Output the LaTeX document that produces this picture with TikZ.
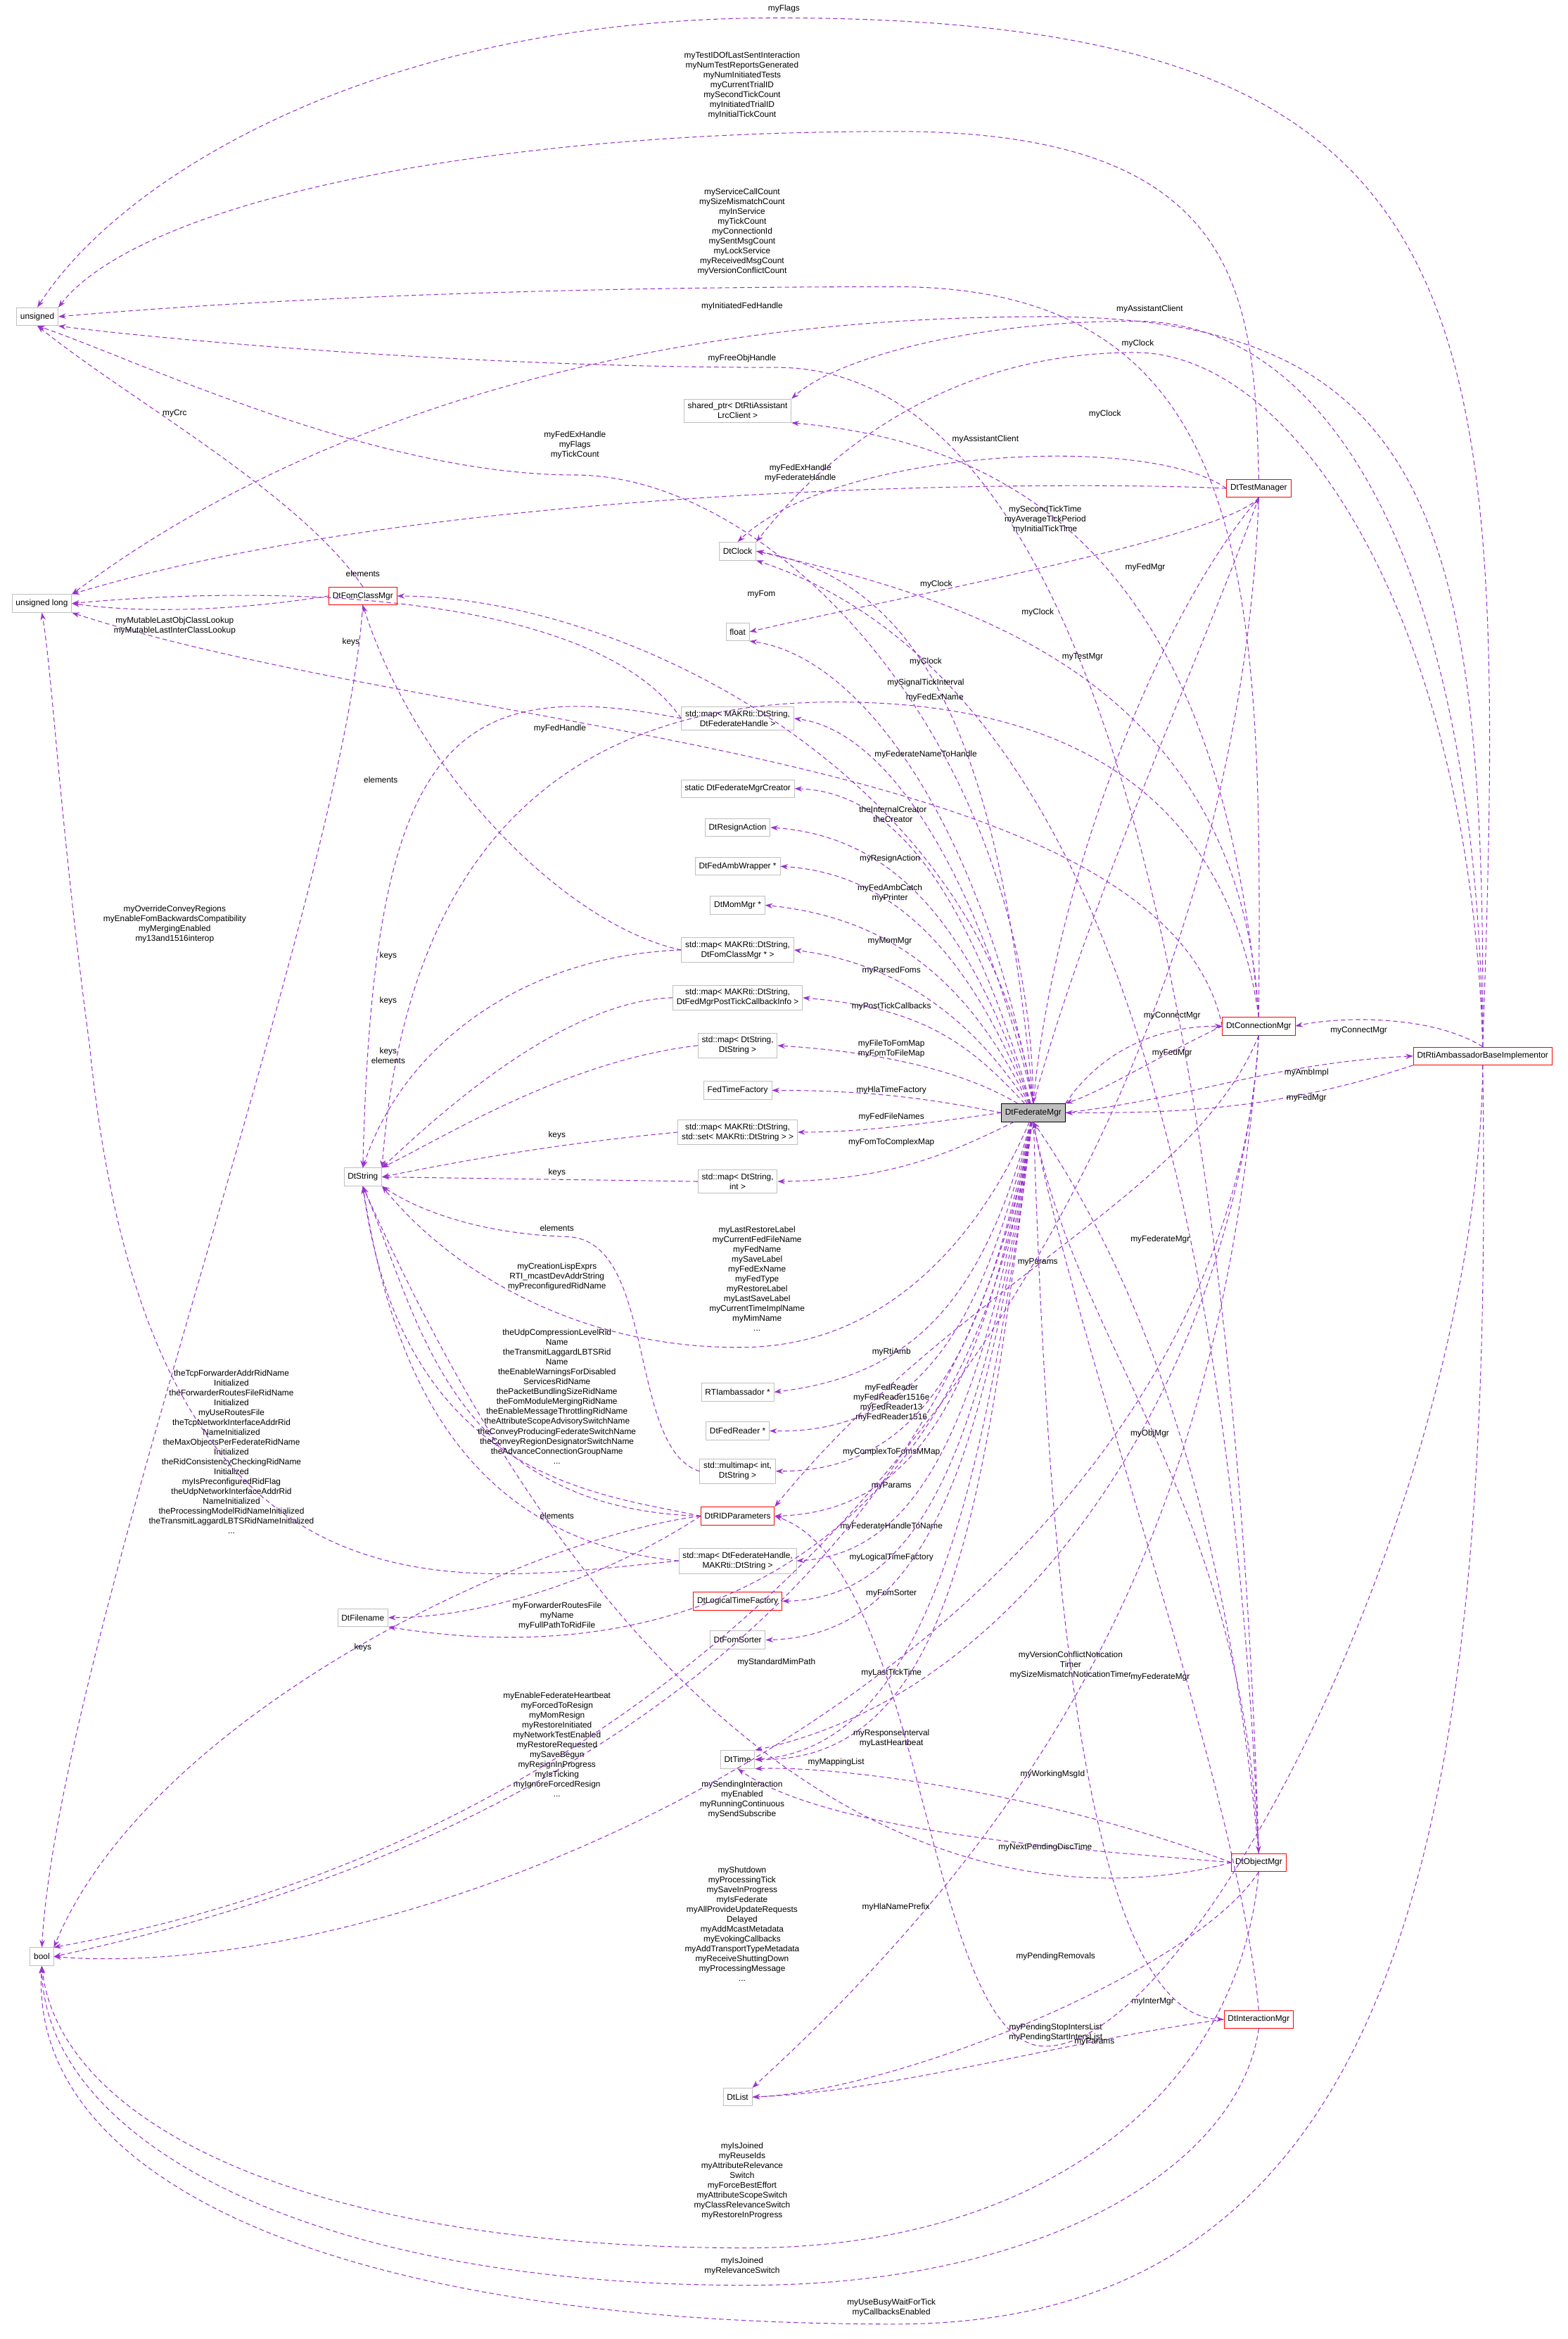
\documentclass[tikz,border=0pt]{standalone}
\usepackage{fontspec}
\setmainfont{Liberation Sans}
\usetikzlibrary{arrows.meta}
\definecolor{edge}{HTML}{9A32CD}
\begin{document}
\begin{tikzpicture}[x=1pt,y=-1pt,
 box/.style={draw={rgb,255:red,191;green,191;blue,191},fill=white,font=\fontsize{5.6}{6.6}\selectfont,align=center,inner sep=2.5pt,minimum height=12pt},
 rbox/.style={box,draw=red},
 e/.style={draw=edge,dashed,dash pattern=on 3pt off 2pt,line width=0.5pt,-{Stealth[length=5pt,width=3.5pt]}},
 lab/.style={font=\fontsize{5.6}{6.6}\selectfont,align=center,inner sep=0pt}]
\useasboundingbox (0,0) rectangle (1050,1566);
% nodes
\node[box] (U) at (25,212) {unsigned};
\node[box] (UL) at (28,404) {unsigned long};
\node[box] (B) at (28,1310) {bool};
\node[rbox] (FC) at (243,399) {DtFomClassMgr};
\node[box] (DS) at (243,788) {DtString};
\node[box] (FN) at (243,1083) {DtFilename};
\node[box] (SP) at (494,275) {shared\_ptr< DtRtiAssistant\\LrcClient >};
\node[box] (CK) at (494,369) {DtClock};
\node[box] (FL) at (494,423) {float};
\node[box] (MFH) at (494,481) {std::map< MAKRti::DtString,\\DtFederateHandle >};
\node[box] (SC) at (494,528) {static DtFederateMgrCreator};
\node[box] (RS) at (494,554) {DtResignAction};
\node[box] (AW) at (494,580) {DtFedAmbWrapper *};
\node[box] (MM) at (494,606) {DtMomMgr *};
\node[box] (MFC) at (494,636) {std::map< MAKRti::DtString,\\DtFomClassMgr * >};
\node[box] (MPT) at (494,668) {std::map< MAKRti::DtString,\\DtFedMgrPostTickCallbackInfo >};
\node[box] (MSS) at (494,700) {std::map< DtString,\\DtString >};
\node[box] (TF) at (494,730) {FedTimeFactory};
\node[box] (MSET) at (494,758) {std::map< MAKRti::DtString,\\std::set< MAKRti::DtString > >};
\node[box] (MSI) at (494,791) {std::map< DtString,\\int >};
\node[box] (RA) at (494,932) {RTIambassador *};
\node[box] (FR) at (494,958) {DtFedReader *};
\node[box] (MMI) at (494,985) {std::multimap< int,\\DtString >};
\node[rbox] (RID) at (494,1015) {DtRIDParameters};
\node[box] (MHS) at (494,1045) {std::map< DtFederateHandle,\\MAKRti::DtString >};
\node[rbox] (LTF) at (494,1072) {DtLogicalTimeFactory};
\node[box] (FS) at (494,1098) {DtFomSorter};
\node[box] (TI) at (494,1178) {DtTime};
\node[box] (LI) at (494,1404) {DtList};
\node[box,fill={rgb,255:red,191;green,191;blue,191},draw=black] (FM) at (692,745) {DtFederateMgr};
\node[rbox] (TM) at (843,327) {DtTestManager};
\node[rbox] (CM) at (843,687) {DtConnectionMgr};
\node[rbox] (RB) at (993,707) {DtRtiAmbassadorBaseImplementor};
\node[rbox] (OM) at (843,1247) {DtObjectMgr};
\node[rbox] (IM) at (843,1352) {DtInteractionMgr};
% top long edges
\draw[e] (RB.north) .. controls (1010,200) and (1005,12) .. (520,12) .. controls (250,12) and (80,120) .. (U.north);
\node[lab] at (525,6) {myFlags};
\draw[e] (TM.north) .. controls (840,200) and (835,88) .. (600,88) .. controls (300,88) and (90,140) .. (U.north east);
\node[lab] at (497,57) {myTestIDOfLastSentInteraction\\myNumTestReportsGenerated\\myNumInitiatedTests\\myCurrentTrialID\\mySecondTickCount\\myInitiatedTrialID\\myInitialTickCount};
\draw[e] (CM.north) .. controls (845,400) and (845,192) .. (600,192) .. controls (300,192) and (120,205) .. (U.east);
\node[lab] at (497,155) {myServiceCallCount\\mySizeMismatchCount\\myInService\\myTickCount\\myConnectionId\\mySentMsgCount\\myLockService\\myReceivedMsgCount\\myVersionConflictCount};
\draw[e] (RB.north) .. controls (995,350) and (960,212) .. (700,212) .. controls (300,212) and (100,360) .. (UL.north east);
\node[lab] at (497,205) {myInitiatedFedHandle};
\draw[e] (RB.north) .. controls (990,400) and (900,215) .. (760,215) .. controls (650,215) and (560,240) .. (SP.north east);
\node[lab] at (770,207) {myAssistantClient};
\draw[e] (RB.north) .. controls (985,420) and (870,236) .. (760,236) .. controls (620,236) and (540,320) .. (CK.north east);
\node[lab] at (762,230) {myClock};
\draw[e] (OM.north) .. controls (830,800) and (760,246) .. (520,246) .. controls (300,246) and (90,225) .. (U.south east);
\node[lab] at (497,240) {myFreeObjHandle};
\draw[e] (FC.north) .. controls (200,330) and (90,270) .. (U.south);
\node[lab] at (117,277) {myCrc};
\draw[e] (TM.west) .. controls (770,290) and (560,300) .. (CK.north);
\node[lab] at (740,277) {myClock};
\draw[e] (CM.north) .. controls (820,420) and (720,300) .. (SP.south east);
\node[lab] at (660,294) {myAssistantClient};
\draw[e] (FM.north) .. controls (690,500) and (520,318) .. (385,318) .. controls (250,318) and (90,240) .. (U.south);
\node[lab] at (385,298) {myFedExHandle\\myFlags\\myTickCount};
\draw[e] (TM.west) .. controls (720,322) and (300,322) .. (UL.north east);
\node[lab] at (536,317) {myFedExHandle\\myFederateHandle};
\draw[e] (TM.south) .. controls (820,360) and (600,400) .. (FL.east);
\node[lab] at (700,348) {mySecondTickTime\\myAverageTickPeriod\\myInitialTickTime};
\draw[e] (FM.north) .. controls (670,500) and (620,390) .. (CK.east);
\node[lab] at (627,391) {myClock};
\draw[e] (FM.north) .. controls (660,520) and (420,400) .. (FC.east);
\node[lab] at (510,398) {myFom};
\draw[e] (CM.north) .. controls (830,450) and (640,400) .. (CK.east);
\node[lab] at (695,410) {myClock};
\draw[e] (FM.north) .. controls (730,600) and (800,450) .. (TM.south);
\node[lab] at (725,440) {myTestMgr};
\draw[e] (TM.south) .. controls (770,420) and (705,600) .. (FM.north);
\node[lab] at (767,380) {myFedMgr};
\draw[e] (OM.north) .. controls (820,700) and (700,440) .. (CK.south east);
\node[lab] at (620,443) {myClock};
\draw[e] (FM.north) .. controls (660,560) and (580,440) .. (FL.south east);
\node[lab] at (620,457) {mySignalTickInterval};
\draw[e] (CM.north) .. controls (820,520) and (700,470) .. (560,470) .. controls (350,470) and (270,600) .. (DS.north east);
\node[lab] at (626,467) {myFedExName};
\draw[e] (CM.west) .. controls (780,500) and (300,492) .. (UL.south east);
\node[lab] at (375,488) {myFedHandle};
\draw[e] (MFH.west) .. controls (400,400) and (200,390) .. (UL.east);
\node[lab] at (243,384) {elements};
\draw[e] (MFH.west) .. controls (300,450) and (250,500) .. (DS.north);
\node[lab] at (235,430) {keys};
\draw[e] (FM.north) .. controls (660,600) and (600,490) .. (MFH.east);
\node[lab] at (620,505) {myFederateNameToHandle};
\draw[e] (MFC.west) .. controls (380,620) and (280,520) .. (FC.south);
\node[lab] at (255,522) {elements};
\draw[e] (MFC.west) .. controls (350,640) and (270,700) .. (DS.north);
\node[lab] at (260,640) {keys};
% FM members left column
\draw[e] (FM) .. controls (650,600) and (600,530) .. (SC.east);
\node[lab] at (598,545) {theInternalCreator\\theCreator};
\draw[e] (FM) .. controls (650,620) and (600,560) .. (RS.east);
\node[lab] at (596,575) {myResignAction};
\draw[e] (FM) .. controls (650,640) and (600,585) .. (AW.east);
\node[lab] at (596,598) {myFedAmbCatch\\myPrinter};
\draw[e] (FM) .. controls (650,660) and (600,615) .. (MM.east);
\node[lab] at (596,630) {myMomMgr};
\draw[e] (FM) .. controls (650,680) and (600,645) .. (MFC.east);
\node[lab] at (597,650) {myParsedFoms};
\draw[e] (FM) .. controls (650,700) and (620,675) .. (MPT.east);
\node[lab] at (597,674) {myPostTickCallbacks};
\draw[e] (MPT.west) .. controls (380,670) and (300,740) .. (DS.north east);
\node[lab] at (260,670) {keys};
\draw[e] (FM) .. controls (650,720) and (600,705) .. (MSS.east);
\node[lab] at (597,702) {myFileToFomMap\\myFomToFileMap};
\draw[e] (MSS.west) .. controls (380,710) and (300,760) .. (DS.north east);
\node[lab] at (260,707) {keys\\elements};
\draw[e] (FM.west) .. controls (620,735) and (580,730) .. (TF.east);
\node[lab] at (597,730) {myHlaTimeFactory};
\draw[e] (FM.west) .. controls (620,752) and (580,758) .. (MSET.east);
\node[lab] at (597,748) {myFedFileNames};
\draw[e] (MSET.west) .. controls (380,765) and (320,775) .. (DS.east);
\node[lab] at (373,760) {keys};
\draw[e] (FM) .. controls (640,770) and (600,790) .. (MSI.east);
\node[lab] at (597,765) {myFomToComplexMap};
\draw[e] (MSI.west) -- (DS.east);
\node[lab] at (373,785) {keys};
\draw[e] (FM) .. controls (660,820) and (600,900) .. (500,902) .. controls (400,904) and (310,860) .. (DS.south east);
\node[lab] at (507,856) {myLastRestoreLabel\\myCurrentFedFileName\\myFedName\\mySaveLabel\\myFedExName\\myFedType\\myRestoreLabel\\myLastSaveLabel\\myCurrentTimeImplName\\myMimName\\...};
\draw[e] (MMI.west) .. controls (420,970) and (440,830) .. (380,828) .. controls (320,826) and (280,810) .. (DS.south east);
\node[lab] at (373,822) {elements};
\draw[e] (RID.west) .. controls (300,1010) and (280,880) .. (DS.south);
\node[lab] at (373,855) {myCreationLispExprs\\RTI\_mcastDevAddrString\\myPreconfiguredRidName};
\draw[e] (RID.west) .. controls (400,1000) and (270,990) .. (DS.south);
\node[lab] at (373,935) {theUdpCompressionLevelRid\\Name\\theTransmitLaggardLBTSRid\\Name\\theEnableWarningsForDisabled\\ServicesRidName\\thePacketBundlingSizeRidName\\theFomModuleMergingRidName\\theEnableMessageThrottlingRidName\\theAttributeScopeAdvisorySwitchName\\theConveyProducingFederateSwitchName\\theConveyRegionDesignatorSwitchName\\theAdvanceConnectionGroupName\\...};
\draw[e] (MHS.west) .. controls (300,1030) and (260,900) .. (DS.south);
\node[lab] at (373,1015) {elements};
\draw[e] (RID.west) .. controls (350,1030) and (100,1150) .. (B.north east);
\node[lab] at (155,972) {theTcpForwarderAddrRidName\\Initialized\\theForwarderRoutesFileRidName\\Initialized\\myUseRoutesFile\\theTcpNetworkInterfaceAddrRid\\NameInitialized\\theMaxObjectsPerFederateRidName\\Initialized\\theRidConsistencyCheckingRidName\\Initialized\\myIsPreconfiguredRidFlag\\theUdpNetworkInterfaceAddrRid\\NameInitialized\\theProcessingModelRidNameInitialized\\theTransmitLaggardLBTSRidNameInitialized\\...};
% FM members lower
\draw[e] (FM) .. controls (660,860) and (620,920) .. (RA.east);
\node[lab] at (597,905) {myRtiAmb};
\draw[e] (FM) .. controls (660,880) and (620,960) .. (FR.east);
\node[lab] at (597,939) {myFedReader\\myFedReader1516e\\myFedReader13\\myFedReader1516};
\draw[e] (FM) .. controls (660,900) and (620,985) .. (MMI.east);
\node[lab] at (597,972) {myComplexToFomsMMap};
\draw[e] (FM) .. controls (660,920) and (620,1012) .. (RID.east);
\node[lab] at (597,995) {myParams};
\draw[e] (FM) .. controls (660,940) and (620,1040) .. (MHS.east);
\node[lab] at (597,1022) {myFederateHandleToName};
\draw[e] (MHS.west) .. controls (300,1060) and (100,1100) .. (60,700) .. controls (40,550) and (35,450) .. (UL.south);
\node[lab] at (243,1103) {keys};
\draw[e] (FM) .. controls (660,960) and (620,1070) .. (LTF.east);
\node[lab] at (597,1043) {myLogicalTimeFactory};
\draw[e] (FM) .. controls (660,980) and (620,1095) .. (FS.east);
\node[lab] at (597,1067) {myFomSorter};
\draw[e] (RID.west) .. controls (400,1060) and (320,1083) .. (FN.east);
\node[lab] at (373,1082) {myForwarderRoutesFile\\myName\\myFullPathToRidFile};
\draw[e] (FM) .. controls (650,1050) and (450,1120) .. (FN.south east);
\node[lab] at (520,1113) {myStandardMimPath};
\draw[e] (FM) .. controls (660,1000) and (620,1170) .. (TI.east);
\node[lab] at (597,1120) {myLastTickTime};
\draw[e] (FM) .. controls (650,1000) and (450,1220) .. (B.east);
\node[lab] at (373,1168) {myEnableFederateHeartbeat\\myForcedToResign\\myMomResign\\myRestoreInitiated\\myNetworkTestEnabled\\myRestoreRequested\\mySaveBegun\\myResignInProgress\\myIsTicking\\myIgnoreForcedResign\\...};
\draw[e] (CM.south) .. controls (830,900) and (700,1130) .. (TI.north east);
\node[lab] at (717,1115) {myVersionConflictNotication\\Timer\\mySizeMismatchNoticationTimer};
\draw[e] (FM) .. controls (660,1000) and (640,1180) .. (TI.east);
\node[lab] at (597,1164) {myResponseInterval\\myLastHeartbeat};
\draw[e] (TM.south) .. controls (830,700) and (600,1200) .. (B.north east);
\node[lab] at (497,1205) {mySendingInteraction\\myEnabled\\myRunningContinuous\\mySendSubscribe};
\draw[e] (OM.west) .. controls (700,1200) and (560,1182) .. (TI.south east);
\node[lab] at (560,1180) {myMappingList};
\draw[e] (CM.south) .. controls (820,1000) and (720,1200) .. (LI.north east);
\node[lab] at (705,1188) {myWorkingMsgId};
\draw[e] (OM.west) .. controls (750,1240) and (560,1230) .. (TI.south);
\node[lab] at (700,1237) {myNextPendingDiscTime};
\draw[e] (CM.south) .. controls (820,1100) and (300,1330) .. (B.east);
\node[lab] at (497,1288) {myShutdown\\myProcessingTick\\mySaveInProgress\\myIsFederate\\myAllProvideUpdateRequests\\Delayed\\myAddMcastMetadata\\myEvokingCallbacks\\myAddTransportTypeMetadata\\myReceiveShuttingDown\\myProcessingMessage\\...};
\draw[e] (OM.west) .. controls (700,1280) and (450,1260) .. (DS.south);
\node[lab] at (600,1277) {myHlaNamePrefix};
\draw[e] (OM.south) .. controls (800,1320) and (600,1400) .. (LI.east);
\node[lab] at (707,1310) {myPendingRemovals};
\draw[e] (FM) .. controls (700,1000) and (720,1350) .. (IM.west);
\node[lab] at (772,1340) {myInterMgr};
\draw[e] (IM.west) .. controls (720,1365) and (600,1400) .. (LI.east);
\node[lab] at (707,1361) {myPendingStopIntersList\\myPendingStartIntersList};
\draw[e] (RB.south) .. controls (990,1000) and (800,1370) .. (700,1370) .. controls (620,1370) and (620,1050) .. (RID.east);
\node[lab] at (733,1367) {myParams};
\draw[e] (OM.south) .. controls (830,1400) and (700,1505) .. (500,1505) .. controls (200,1505) and (40,1420) .. (B.south);
\node[lab] at (497,1460) {myIsJoined\\myReuseIds\\myAttributeRelevance\\Switch\\myForceBestEffort\\myAttributeScopeSwitch\\myClassRelevanceSwitch\\myRestoreInProgress};
\draw[e] (IM.south) .. controls (830,1450) and (700,1530) .. (500,1530) .. controls (200,1530) and (30,1430) .. (B.south);
\node[lab] at (497,1517) {myIsJoined\\myRelevanceSwitch};
\draw[e] (RB.south) .. controls (1000,1200) and (950,1556) .. (600,1556) .. controls (200,1556) and (20,1450) .. (B.south);
\node[lab] at (597,1545) {myUseBusyWaitForTick\\myCallbacksEnabled};
% main cluster
\draw[e] (FM.north east) .. controls (740,700) and (780,687) .. (CM.west);
\node[lab] at (785,680) {myConnectMgr};
\draw[e] (CM.west) .. controls (780,705) and (740,730) .. (FM.north east);
\node[lab] at (785,705) {myFedMgr};
\draw[e] (RB.north) .. controls (960,680) and (900,680) .. (CM.east);
\node[lab] at (910,690) {myConnectMgr};
\draw[e] (FM.east) .. controls (800,735) and (850,712) .. (RB.west);
\node[lab] at (875,718) {myAmbImpl};
\draw[e] (RB.south west) .. controls (850,745) and (780,745) .. (FM.east);
\node[lab] at (875,735) {myFedMgr};
\draw[e] (OM.north) .. controls (820,1000) and (760,850) .. (FM.south);
\node[lab] at (777,830) {myFederateMgr};
\draw[e] (CM.south) .. controls (800,800) and (640,860) .. (RID.north east);
\node[lab] at (695,845) {myParams};
\draw[e] (FM.south) .. controls (720,900) and (830,1000) .. (OM.north);
\node[lab] at (770,960) {myObjMgr};
\draw[e] (IM.north) .. controls (830,1200) and (720,900) .. (FM.south);
\node[lab] at (777,1123) {myFederateMgr};
% fom class mgr
\draw[e] (FC.west) .. controls (150,410) and (90,410) .. (UL.east);
\node[lab] at (117,419) {myMutableLastObjClassLookup\\myMutableLastInterClassLookup};
\draw[e] (FC.south) .. controls (230,600) and (40,1100) .. (B.north);
\node[lab] at (117,619) {myOverrideConveyRegions\\myEnableFomBackwardsCompatibility\\myMergingEnabled\\my13and1516interop};
\end{tikzpicture}
\end{document}
